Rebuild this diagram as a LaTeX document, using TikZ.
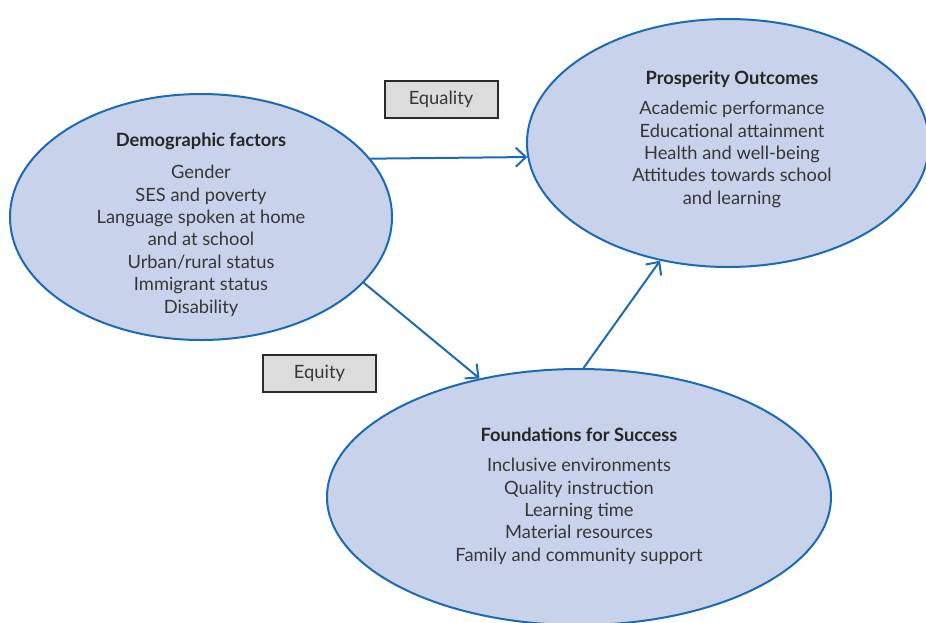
\documentclass[tikz,border=0pt]{standalone}
\usepackage{fontspec}
\setmainfont{Lato}
\usetikzlibrary{shapes.geometric,arrows.meta}
\definecolor{ellfill}{HTML}{C8D3EB}
\definecolor{elldraw}{HTML}{1A6AB4}
\definecolor{boxfill}{HTML}{DCDCDC}
\definecolor{boxdraw}{HTML}{2A2A2A}
\definecolor{txt}{HTML}{363636}
\tikzset{
  ell/.style={ellipse, fill=ellfill, draw=elldraw, line width=2pt, inner sep=0pt},
  lbl/.style={align=center, text=txt, font=\fontsize{18.3}{22.4}\selectfont, inner sep=0pt},
  hd/.style={text=black!85, font=\fontsize{18.3}{22.4}\selectfont\bfseries, inner sep=0pt},
  tagbox/.style={draw=boxdraw, fill=boxfill, line width=2pt, minimum width=113pt, minimum height=37pt, text=txt, font=\fontsize{18.3}{20}\selectfont, inner sep=0pt},
  arr/.style={draw=elldraw, line width=2pt, -{Straight Barb[length=10pt,width=19pt,line width=2pt]}}
}
\begin{document}
\begin{tikzpicture}[x=1pt,y=-1pt]
\useasboundingbox (0,0) rectangle (926,622);
\clip (0,0) rectangle (926,622);
% ellipses
\node[ell, minimum width=382pt, minimum height=246pt] (demo) at (201,217) {};
\node[ell, minimum width=402pt, minimum height=248pt] (pros) at (728,143) {};
\node[ell, minimum width=504pt, minimum height=256pt] (found) at (579,497) {};
% titles and lists
\node[hd] (demoT) at (201,141) {Demographic factors};
\node[lbl, anchor=north] (demoL) at (201,165) {Gender\\SES and poverty\\Language spoken at home\\and at school\\Urban/rural status\\Immigrant status\\Disability};
\node[hd] (prosT) at (732,79) {Prosperity Outcomes};
\node[lbl, anchor=north] (prosL) at (732,101) {Academic performance\\Educational attainment\\Health and well-being\\Attitudes towards school\\and learning};
\node[hd] (foundT) at (579,435) {Foundations for Success};
\node[lbl, anchor=north] (foundL) at (579,458) {Inclusive environments\\Quality instruction\\Learning time\\Material resources\\Family and community support};
% boxes
\node[tagbox] (eqty) at (441,99.5) {Equality};
\node[tagbox] (eqt) at (319.5,373) {Equity};
% arrows
\draw[arr] (demo.19) -- (pros.184);
\draw[arr] (demo.-22.3) -- (found.130.6);
\draw[arr] (found.88.3) -- (pros.240.8);
\end{tikzpicture}
\end{document}
